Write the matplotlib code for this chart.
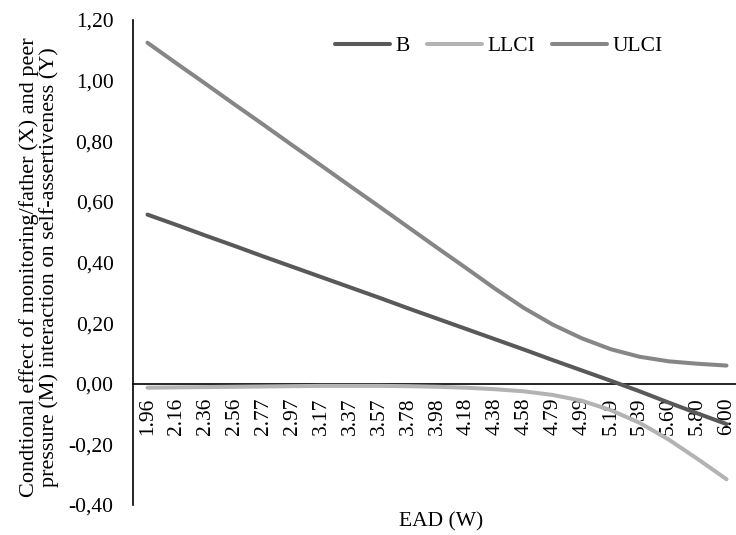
import matplotlib
matplotlib.use("Agg")
import matplotlib.pyplot as plt
from matplotlib.ticker import FuncFormatter

categories = ["1.96", "2.16", "2.36", "2.56", "2.77", "2.97", "3.17", "3.37", "3.57", "3.78",
              "3.98", "4.18", "4.38", "4.58", "4.79", "4.99", "5.19", "5.39", "5.60", "5.80", "6.00"]
B = [0.558, 0.524, 0.489, 0.455, 0.420, 0.386, 0.352, 0.318, 0.284, 0.249,
     0.215, 0.181, 0.147, 0.113, 0.078, 0.044, 0.010, -0.025, -0.062, -0.098, -0.133]
LLCI = [-0.013, -0.012, -0.011, -0.010, -0.009, -0.008, -0.007, -0.007, -0.007, -0.008,
        -0.010, -0.013, -0.018, -0.025, -0.037, -0.056, -0.087, -0.129, -0.184, -0.248, -0.315]
ULCI = [1.125, 1.057, 0.990, 0.922, 0.855, 0.787, 0.720, 0.652, 0.585, 0.517,
        0.449, 0.382, 0.314, 0.250, 0.195, 0.150, 0.114, 0.089, 0.074, 0.066, 0.060]

plt.rcParams['font.family'] = ['Liberation Serif', 'DejaVu Serif']
FS = 15.5

fig = plt.figure(figsize=(7.36, 5.35), dpi=100)
ax = fig.add_axes([133 / 736, 1 - 505 / 535, (741 - 133) / 736, (505 - 20) / 535])

ax.spines['top'].set_visible(False)
ax.spines['right'].set_visible(False)
ax.spines['bottom'].set_position(('data', 0))
ax.spines['bottom'].set_color('black')
ax.spines['bottom'].set_linewidth(1.2)
ax.spines['left'].set_linewidth(1.2)

x = list(range(len(categories)))
lw = 2.9
ax.plot(x, B, color='#595959', lw=lw, solid_capstyle='round', solid_joinstyle='round', label='B', zorder=3)
ax.plot(x, LLCI, color='#b3b3b3', lw=lw, solid_capstyle='round', solid_joinstyle='round', label='LLCI', zorder=3)
ax.plot(x, ULCI, color='#868686', lw=lw, solid_capstyle='round', solid_joinstyle='round', label='ULCI', zorder=3)

ax.set_xlim(-0.5, len(categories) - 0.5)
ax.set_ylim(-0.4, 1.2)
ax.set_yticks([-0.4, -0.2, 0.0, 0.2, 0.4, 0.6, 0.8, 1.0, 1.2])
ax.yaxis.set_major_formatter(FuncFormatter(lambda v, p: f"{v:.2f}".replace('.', ',')))
ax.set_xticks(x)
ax.set_xticklabels(categories, rotation=90, fontsize=FS, va='top', ha='center')
ax.tick_params(axis='y', length=0, labelsize=FS, pad=14)
ax.tick_params(axis='x', length=0, pad=10)

ax.set_ylabel("Condtional effect of monitoring/father (X) and peer\npressure (M) interaction on self-assertiveness (Y)",
              fontsize=16, linespacing=1.02)
ax.yaxis.set_label_coords(59 / 736, 0.5, transform=fig.transFigure)

fig.text(441 / 736, 1 - 522 / 535, "EAD (W)", ha='center', va='center', fontsize=FS)

ax.legend(loc='center', bbox_to_anchor=(499 / 736, 1 - 46 / 535), bbox_transform=fig.transFigure,
          ncol=3, frameon=False, fontsize=FS, handlelength=2.55, handletextpad=0.25, columnspacing=0.8)

fig.savefig("out.png", dpi=100)
